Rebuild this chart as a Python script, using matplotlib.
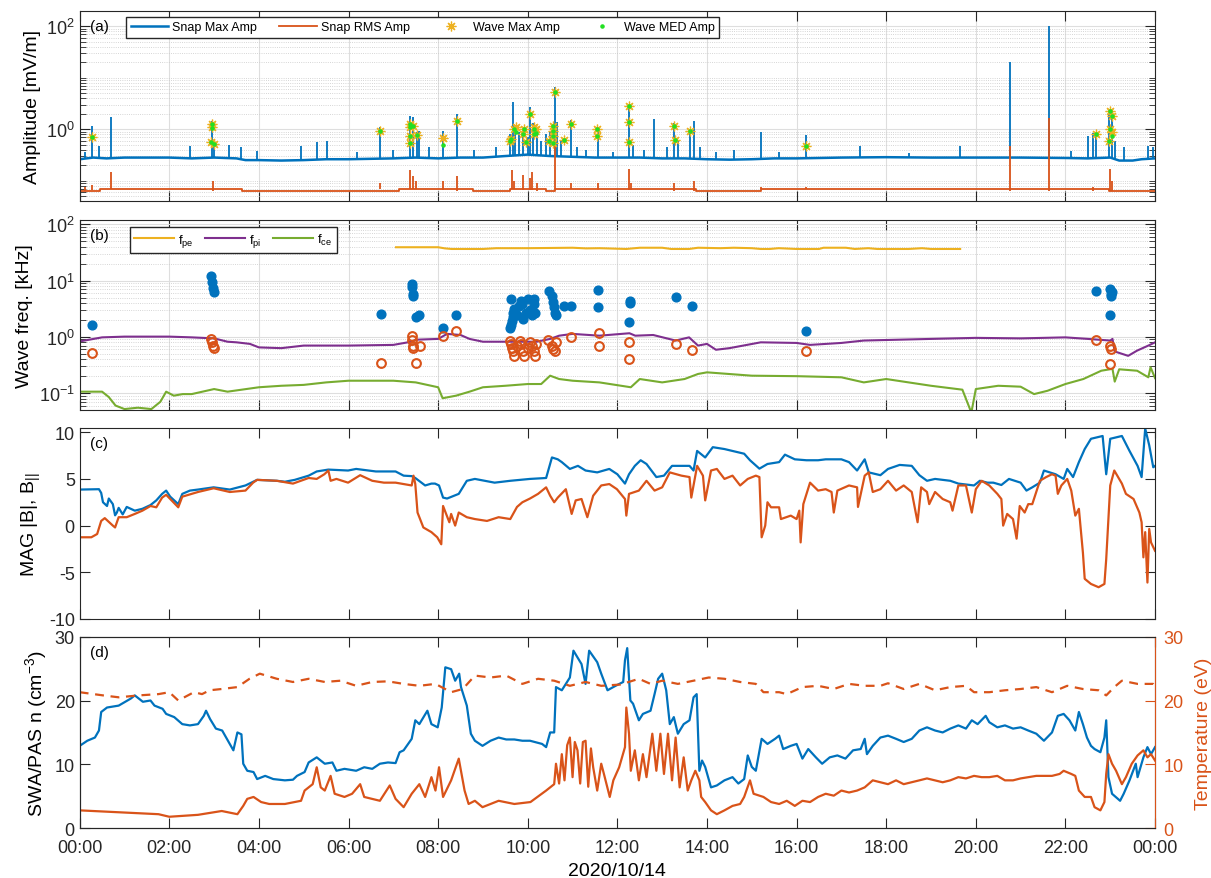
import numpy as np
import matplotlib
matplotlib.use("Agg")
import matplotlib.pyplot as plt
from matplotlib.ticker import LogLocator, FixedLocator, NullFormatter, LogFormatterSciNotation

plt.rcParams['font.family'] = ['Liberation Sans', 'DejaVu Sans']
plt.rcParams['font.size'] = 13
plt.rcParams['mathtext.fontset'] = 'custom'
plt.rcParams['mathtext.rm'] = 'Liberation Sans'
plt.rcParams['mathtext.it'] = 'Liberation Sans:italic'
plt.rcParams['mathtext.bf'] = 'Liberation Sans:bold'
plt.rcParams['axes.unicode_minus'] = False
plt.rcParams['axes.edgecolor'] = '#262626'
plt.rcParams['xtick.color'] = '#262626'
plt.rcParams['ytick.color'] = '#262626'
plt.rcParams['xtick.direction'] = 'in'
plt.rcParams['ytick.direction'] = 'in'

BLUE = '#0072BD'
ORANGE = '#D95319'
YELLOW = '#EDB120'
PURPLE = '#7E2F8E'
GREEN = '#77AC30'

# ---------------- data (time in hours of 2020/10/14) ----------------
# (a) snapshot amplitudes
snap_max_base = [(0, 0.26), (0.3, 0.28), (0.6, 0.27), (1.0, 0.28), (1.5, 0.28), (2.0, 0.28), (2.5, 0.27),
                 (3.0, 0.28), (3.5, 0.27), (3.7, 0.25), (4.0, 0.25), (4.5, 0.245), (5.0, 0.25), (5.5, 0.26),
                 (6.0, 0.26), (6.5, 0.265), (7.0, 0.27), (7.5, 0.28), (8.0, 0.27), (8.5, 0.28), (9.0, 0.28),
                 (9.5, 0.30), (10.0, 0.32), (10.5, 0.30), (11.0, 0.29), (11.5, 0.28), (12.0, 0.28), (12.5, 0.28),
                 (13.0, 0.27), (13.5, 0.27), (14.0, 0.26), (14.5, 0.255), (15.0, 0.26), (15.5, 0.27), (16.0, 0.27),
                 (17.0, 0.28), (18.0, 0.285), (19.0, 0.28), (20.0, 0.28), (21.0, 0.28), (22.0, 0.275), (22.5, 0.27),
                 (23.0, 0.28), (23.2, 0.245), (23.5, 0.245), (23.7, 0.26), (24.0, 0.27)]
snap_max_spikes = [(0.12, 0.36), (0.27, 1.17), (0.42, 0.48), (0.71, 1.71), (2.47, 0.48), (2.95, 1.45), (3.0, 0.6),
                   (3.34, 0.5), (3.59, 0.45), (3.96, 0.37), (4.95, 0.48), (5.3, 0.56), (5.53, 0.6), (6.2, 0.36),
                   (6.71, 1.09), (7.0, 0.4), (7.38, 1.84), (7.45, 1.71), (7.53, 0.9), (7.58, 0.94), (7.8, 0.45),
                   (8.1, 0.94), (8.43, 1.98), (8.8, 0.4), (9.3, 0.45), (9.6, 0.8), (9.66, 3.35), (9.72, 1.2),
                   (9.8, 0.9), (9.9, 1.1), (10.0, 0.7), (10.06, 2.7), (10.12, 1.3), (10.2, 1.1), (10.3, 0.6),
                   (10.4, 0.8), (10.5, 0.9), (10.6, 6.6), (10.65, 1.4), (10.75, 0.6), (10.96, 1.52), (11.1, 0.45),
                   (11.3, 0.4), (11.56, 1.09), (11.9, 0.36), (12.27, 3.1), (12.35, 0.5), (12.6, 0.4), (12.82, 1.55),
                   (13.1, 0.45), (13.27, 1.33), (13.35, 0.6), (13.63, 1.0), (13.72, 1.47), (13.85, 0.45),
                   (14.2, 0.36), (14.6, 0.4), (15.2, 0.89), (15.6, 0.36), (16.2, 0.78), (17.42, 0.48), (18.5, 0.35),
                   (19.64, 0.48), (20.77, 20.0), (21.64, 100.0), (22.12, 0.38), (22.5, 0.75), (22.62, 0.84),
                   (22.69, 0.82), (22.98, 2.5), (23.03, 1.9), (23.1, 0.6), (23.3, 0.45), (23.85, 0.48), (23.95, 0.45)]
snap_rms_steps = [(0, 0.062), (0.45, 0.069), (3.62, 0.062), (7.13, 0.069), (8.77, 0.062), (9.6, 0.069),
                  (10.4, 0.062), (10.6, 0.069), (13.75, 0.062), (15.2, 0.069), (22.97, 0.062), (24.0, 0.062)]
snap_rms_spikes = [(0.12, 0.075), (0.27, 0.082), (0.71, 0.145), (2.97, 0.1), (6.71, 0.09), (7.38, 0.16),
                   (7.45, 0.12), (7.5, 0.1), (8.1, 0.1), (8.43, 0.12), (9.65, 0.16), (9.7, 0.1), (9.9, 0.13),
                   (10.05, 0.11), (10.1, 0.15), (10.2, 0.09), (10.6, 0.48), (10.96, 0.09), (11.56, 0.09),
                   (12.27, 0.17), (12.3, 0.09), (13.27, 0.09), (13.72, 0.1), (15.2, 0.075), (16.2, 0.075),
                   (20.77, 0.48), (21.64, 1.64), (22.62, 0.075), (23.0, 0.17), (23.05, 0.1)]
wave_max_amp = [(0.27, 0.7), (2.95, 1.27), (2.95, 1.09), (2.93, 0.57), (3.0, 0.52), (6.71, 0.94), (7.38, 1.27),
                (7.38, 1.09), (7.38, 0.75), (7.38, 0.53), (7.45, 1.17), (7.53, 0.78), (8.1, 0.67), (8.43, 1.47),
                (9.61, 0.6), (9.63, 0.63), (9.7, 1.0), (9.74, 1.09), (9.89, 0.8), (9.92, 1.0), (9.96, 0.57),
                (10.05, 1.98), (10.14, 1.09), (10.14, 0.8), (10.18, 1.0), (10.47, 0.6), (10.56, 1.17),
                (10.56, 0.94), (10.56, 0.75), (10.56, 0.55), (10.6, 5.25), (10.8, 0.62), (10.96, 1.27),
                (11.55, 1.0), (11.55, 0.75), (12.27, 2.77), (12.27, 1.4), (12.25, 0.57), (13.27, 1.17),
                (13.29, 0.62), (13.63, 0.94), (16.2, 0.47), (22.69, 0.82), (23.0, 2.25), (23.03, 1.83),
                (23.0, 1.02), (23.03, 0.87), (22.98, 0.6)]
wave_med_amp = [(0.27, 0.7), (2.95, 1.27), (2.95, 1.05), (2.93, 0.57), (3.0, 0.52), (6.71, 0.94), (7.38, 1.27),
                (7.38, 1.09), (7.38, 0.75), (7.38, 0.53), (7.45, 1.17), (7.53, 0.78), (8.1, 0.5), (8.43, 1.47),
                (9.61, 0.6), (9.63, 0.63), (9.7, 1.0), (9.74, 0.9), (9.89, 0.8), (9.92, 1.0), (9.96, 0.57),
                (10.05, 1.98), (10.14, 1.0), (10.14, 0.8), (10.18, 0.85), (10.47, 0.6), (10.56, 1.17),
                (10.56, 0.94), (10.56, 0.75), (10.56, 0.55), (10.6, 5.25), (10.8, 0.62), (10.96, 1.27),
                (11.55, 1.0), (11.55, 0.75), (12.27, 2.77), (12.27, 1.4), (12.25, 0.57), (13.27, 1.17),
                (13.29, 0.62), (13.63, 0.94), (16.2, 0.47), (22.69, 0.82), (23.0, 2.25), (23.03, 1.83),
                (23.0, 1.02), (23.03, 0.75), (22.98, 0.6)]

# (b) wave frequencies and plasma frequencies [kHz]
freq_high = [(0.27, 1.63), (2.94, 12.3), (2.95, 9.6), (2.97, 7.3), (3.0, 6.4), (6.73, 2.56), (7.42, 8.7),
             (7.42, 7.6), (7.43, 5.8), (7.44, 5.3), (7.5, 2.3), (7.58, 2.4), (8.1, 1.42), (8.4, 2.45),
             (9.60, 1.42), (9.62, 1.63), (9.64, 1.95), (9.66, 2.3), (9.68, 2.7), (9.70, 3.1), (9.63, 4.7),
             (9.75, 2.4), (9.80, 3.6), (9.85, 4.4), (9.88, 3.85), (9.90, 2.1), (9.95, 2.7), (10.0, 4.7),
             (10.05, 3.0), (10.1, 2.4), (10.13, 3.85), (10.15, 4.7), (10.17, 2.7), (10.47, 6.6), (10.55, 5.3),
             (10.57, 4.1), (10.58, 3.4), (10.6, 2.7), (10.62, 2.4), (10.8, 3.6), (10.96, 3.6), (11.57, 6.9),
             (11.57, 3.4), (12.27, 1.82), (12.28, 4.4), (12.29, 4.0), (13.3, 5.1), (13.66, 3.6), (16.2, 1.26),
             (22.69, 6.6), (23.0, 7.1), (23.01, 5.8), (23.02, 5.3), (23.0, 2.45), (23.05, 6.3)]
freq_low = [(0.27, 0.51), (2.94, 0.92), (2.96, 0.82), (2.98, 0.70), (3.0, 0.63), (6.73, 0.35), (7.42, 1.05),
            (7.42, 0.89), (7.43, 0.70), (7.44, 0.63), (7.5, 0.35), (7.6, 0.70), (8.1, 1.04), (8.4, 1.29),
            (9.6, 0.86), (9.62, 0.75), (9.64, 0.63), (9.66, 0.55), (9.7, 0.46), (9.75, 0.68), (9.82, 0.86),
            (9.85, 0.75), (9.9, 0.55), (9.92, 0.46), (10.0, 0.63), (10.05, 0.82), (10.1, 0.68), (10.15, 0.55),
            (10.17, 0.46), (10.18, 0.75), (10.45, 0.89), (10.55, 0.70), (10.57, 0.60), (10.6, 0.55),
            (10.62, 0.82), (10.96, 0.98), (11.58, 1.17), (11.58, 0.70), (12.27, 0.82), (12.25, 0.40),
            (13.3, 0.75), (13.66, 0.58), (16.2, 0.55), (22.69, 0.88), (23.0, 0.70), (23.02, 0.61), (23.0, 0.33)]
f_pe = [(7.06, 39.3), (8.0, 39.3), (8.15, 37.5), (8.3, 36.6), (9.0, 36.6), (9.3, 37.8), (10.0, 37.8),
        (11.0, 38.5), (11.3, 37.5), (11.6, 37.8), (12.2, 36.6), (12.5, 38.5), (13.0, 38.5), (13.2, 36.6),
        (13.6, 36.6), (13.8, 38.5), (14.3, 37.8), (14.6, 38.5), (15.0, 37.8), (15.2, 36.6), (15.4, 36.6),
        (15.6, 37.8), (16.0, 36.6), (16.5, 36.6), (16.6, 38.5), (17.1, 38.5), (17.3, 36.6), (17.6, 37.8),
        (17.8, 36.6), (18.5, 36.6), (18.8, 37.8), (19.0, 36.6), (19.65, 36.6)]
f_pi = [(0, 0.83), (0.5, 0.98), (1.0, 1.01), (2.0, 1.01), (2.5, 0.98), (3.0, 0.94), (3.3, 0.82), (3.5, 0.80),
        (3.8, 0.75), (4.0, 0.65), (4.5, 0.63), (5.0, 0.70), (6.0, 0.70), (7.0, 0.72), (7.4, 0.82), (7.5, 0.89),
        (8.0, 0.92), (8.2, 1.13), (8.5, 1.08), (8.7, 0.92), (9.0, 0.82), (10.2, 0.82), (10.5, 0.92), (10.7, 1.05),
        (11.0, 1.13), (11.6, 1.05), (12.27, 1.16), (12.4, 1.05), (12.8, 1.08), (13.3, 0.86), (13.6, 0.98),
        (13.8, 0.70), (14.0, 0.75), (14.2, 0.59), (14.5, 0.63), (15.2, 0.80), (16.0, 0.78), (16.3, 0.72),
        (17.0, 0.78), (17.5, 0.86), (18.0, 0.88), (19.0, 0.92), (20.0, 0.96), (21.0, 0.94), (22.0, 0.98),
        (22.5, 0.92), (23.0, 0.86), (23.05, 0.92), (23.1, 0.55), (23.4, 0.46), (23.6, 0.57), (23.85, 0.70),
        (24.0, 0.80)]
f_ce = [(0, 0.106), (0.5, 0.106), (0.65, 0.085), (0.8, 0.060), (1.0, 0.052), (1.3, 0.055), (1.6, 0.052),
        (1.8, 0.07), (1.93, 0.106), (2.1, 0.09), (2.3, 0.096), (2.5, 0.096), (3.0, 0.118), (3.3, 0.106),
        (4.0, 0.127), (4.5, 0.135), (5.0, 0.14), (5.5, 0.155), (6.0, 0.166), (7.0, 0.166), (7.5, 0.155),
        (8.0, 0.127), (8.1, 0.081), (8.4, 0.09), (8.7, 0.106), (9.0, 0.127), (9.5, 0.135), (10.0, 0.145),
        (10.3, 0.145), (10.5, 0.204), (10.7, 0.178), (11.0, 0.166), (11.6, 0.155), (12.3, 0.127),
        (12.5, 0.178), (13.0, 0.155), (13.5, 0.178), (13.8, 0.219), (14.0, 0.234), (15.0, 0.204),
        (16.0, 0.2), (17.0, 0.191), (17.5, 0.155), (18.0, 0.178), (18.5, 0.155), (19.0, 0.135),
        (19.7, 0.115), (19.9, 0.045), (20.0, 0.118), (20.5, 0.135), (21.0, 0.13), (21.3, 0.096),
        (21.6, 0.11), (22.0, 0.145), (22.4, 0.178), (22.8, 0.25), (23.05, 0.27), (23.1, 0.16), (23.2, 0.265),
        (23.6, 0.25), (23.85, 0.191), (23.9, 0.288), (24.0, 0.185)]

# (c) magnetic field [nT]
b_abs = [(0.00, 3.86), (0.43, 3.9), (0.48, 3.5), (0.52, 2.5), (0.61, 2.1), (0.65, 2.9), (0.74, 2.3), (0.79, 1.1),
         (0.83, 1.4), (0.87, 1.9), (0.96, 1.2), (1.05, 2.0), (1.23, 1.6), (1.40, 1.8), (1.58, 2.2), (1.71, 2.7),
         (1.84, 3.4), (1.93, 3.75), (2.02, 3.1), (2.20, 2.3), (2.29, 3.4), (2.46, 3.75), (2.64, 3.86),
         (2.99, 4.1), (3.35, 3.86), (3.70, 4.3), (3.96, 4.9), (4.40, 4.8), (4.58, 4.7), (4.80, 4.9),
         (5.11, 5.35), (5.29, 5.8), (5.55, 6.0), (5.99, 5.9), (6.17, 6.07), (6.61, 5.8), (7.05, 5.8),
         (7.23, 5.35), (7.41, 5.3), (7.49, 5.1), (7.71, 4.3), (7.85, 4.5), (7.93, 4.5), (8.02, 4.3),
         (8.11, 3.0), (8.20, 2.9), (8.46, 3.4), (8.64, 4.8), (8.82, 5.0), (9.26, 4.6), (9.61, 4.8),
         (10.05, 5.0), (10.41, 5.1), (10.54, 7.3), (10.67, 7.1), (10.76, 6.8), (10.94, 6.07), (11.12, 6.4),
         (11.29, 5.9), (11.55, 5.7), (11.82, 6.07), (12.0, 5.5), (12.17, 4.5), (12.26, 5.5), (12.39, 6.4),
         (12.52, 7.0), (12.65, 6.6), (12.87, 5.2), (13.04, 5.35), (13.22, 6.4), (13.61, 6.4), (13.70, 5.9),
         (13.78, 8.0), (13.96, 7.3), (14.13, 8.4), (14.39, 8.2), (14.65, 7.9), (14.83, 7.7), (14.96, 7.0),
         (15.17, 6.1), (15.35, 6.6), (15.61, 6.8), (15.74, 7.6), (15.96, 7.1), (16.22, 7.0), (16.48, 7.0),
         (16.65, 7.1), (17.0, 7.1), (17.17, 6.8), (17.35, 5.9), (17.52, 7.1), (17.61, 5.7), (17.87, 5.4),
         (18.04, 6.07), (18.30, 6.5), (18.57, 6.4), (18.74, 5.4), (18.91, 4.8), (19.09, 5.0), (19.43, 4.8),
         (19.61, 4.5), (19.96, 4.3), (20.09, 4.8), (20.26, 4.6), (20.39, 4.6), (20.57, 4.35), (20.74, 5.0),
         (21.0, 4.6), (21.13, 3.75), (21.26, 4.1), (21.43, 4.6), (21.52, 5.9), (21.78, 5.5), (21.96, 5.0),
         (22.04, 6.07), (22.17, 5.2), (22.30, 6.8), (22.43, 8.2), (22.57, 9.3), (22.83, 9.6), (22.91, 5.5),
         (23.0, 9.3), (23.26, 9.6), (23.43, 8.0), (23.61, 6.4), (23.70, 5.2), (23.78, 10.4), (23.87, 8.6),
         (23.96, 6.25), (24.0, 6.4)]
b_par = [(0.00, -1.25), (0.26, -1.25), (0.39, -0.9), (0.48, 0.5), (0.56, 0.8), (0.74, 0.0), (0.79, -0.2),
         (0.87, 0.9), (1.05, 0.9), (1.23, 1.25), (1.40, 1.6), (1.58, 2.1), (1.71, 1.96), (1.84, 3.0),
         (1.93, 3.3), (2.02, 2.85), (2.20, 1.96), (2.29, 3.1), (2.64, 3.6), (2.99, 4.0), (3.35, 3.6),
         (3.70, 3.75), (3.87, 4.6), (3.96, 4.9), (4.40, 4.8), (4.76, 4.5), (5.11, 5.1), (5.29, 5.0),
         (5.46, 5.5), (5.55, 5.9), (5.60, 4.8), (5.73, 5.0), (5.99, 4.6), (6.26, 5.4), (6.53, 4.8),
         (6.79, 4.6), (7.05, 4.6), (7.41, 4.3), (7.45, 5.35), (7.49, 4.45), (7.54, 1.4), (7.67, -0.2),
         (7.85, -0.7), (7.98, -1.25), (8.07, -2.0), (8.11, 2.1), (8.25, 0.36), (8.29, 1.25), (8.38, 0.0),
         (8.46, 1.4), (8.64, 0.9), (8.82, 0.7), (9.09, 0.5), (9.35, 0.9), (9.61, 0.7), (9.76, 2.0),
         (9.88, 2.5), (10.05, 2.9), (10.23, 3.4), (10.41, 4.1), (10.50, 3.2), (10.59, 2.5), (10.67, 3.0),
         (10.85, 3.9), (10.98, 1.25), (11.07, 2.7), (11.20, 2.85), (11.33, 0.9), (11.46, 3.2), (11.64, 4.3),
         (11.82, 4.45), (11.99, 3.9), (12.17, 2.85), (12.20, 1.07), (12.26, 3.4), (12.48, 3.75), (12.65, 4.8),
         (12.83, 3.75), (13.0, 4.1), (13.17, 5.7), (13.43, 5.35), (13.61, 5.2), (13.65, 3.0), (13.78, 6.4),
         (13.91, 5.35), (13.96, 2.7), (14.09, 5.9), (14.22, 6.07), (14.39, 5.0), (14.57, 5.35), (14.74, 4.3),
         (14.91, 5.0), (15.09, 5.35), (15.17, 5.2), (15.22, -1.25), (15.30, 0.0), (15.35, 2.5), (15.43, 1.96),
         (15.61, 1.96), (15.65, 0.7), (15.87, 1.07), (16.0, 0.7), (16.06, 1.6), (16.09, -1.8), (16.15, 2.3),
         (16.30, 4.6), (16.48, 3.75), (16.65, 3.9), (16.78, 3.6), (16.83, 1.4), (16.91, 3.75), (17.17, 4.3),
         (17.35, 4.1), (17.37, 2.0), (17.52, 5.35), (17.61, 5.7), (17.70, 3.6), (17.87, 3.9), (18.04, 4.8),
         (18.22, 3.75), (18.39, 4.3), (18.57, 3.6), (18.70, 0.36), (18.78, 4.1), (18.91, 3.6), (18.96, 2.3),
         (19.09, 3.6), (19.26, 2.85), (19.43, 2.5), (19.48, 1.6), (19.61, 4.3), (19.78, 4.3), (19.91, 1.4),
         (20.0, 3.9), (20.13, 4.8), (20.30, 4.3), (20.48, 3.4), (20.57, 2.85), (20.61, 0.0), (20.70, 1.25),
         (20.83, 0.7), (20.91, -1.4), (20.98, 2.1), (21.09, 1.4), (21.17, 2.3), (21.26, 2.3), (21.43, 4.8),
         (21.57, 5.2), (21.70, 5.5), (21.78, 5.35), (21.83, 3.4), (21.91, 4.3), (22.04, 5.0), (22.13, 3.75),
         (22.22, 1.07), (22.30, 1.8), (22.39, -2.9), (22.43, -5.7), (22.57, -6.25), (22.74, -6.6),
         (22.87, -6.25), (22.91, -3.6), (23.0, 4.3), (23.09, 5.9), (23.26, 4.5), (23.35, 3.4), (23.52, 2.85),
         (23.65, 1.4), (23.70, 0.36), (23.74, -3.4), (23.78, -0.7), (23.83, -6.1), (23.87, -0.36),
         (23.91, -1.8), (24.0, -2.7)]

# (d) plasma density [cm^-3] and temperatures [eV]
density = [(0.00, 12.9), (0.17, 13.7), (0.34, 14.2), (0.43, 15.3), (0.48, 18.2), (0.61, 18.9), (0.87, 19.2),
           (1.14, 20.3), (1.23, 20.8), (1.41, 19.8), (1.58, 20.0), (1.67, 19.2), (1.85, 18.7), (1.93, 17.9),
           (2.11, 17.4), (2.29, 16.3), (2.46, 16.1), (2.64, 16.3), (2.77, 17.6), (2.82, 18.4), (2.91, 17.1),
           (3.04, 15.6), (3.18, 15.3), (3.35, 13.2), (3.43, 12.2), (3.52, 15.0), (3.61, 14.7), (3.65, 10.1),
           (3.74, 9.0), (3.88, 8.8), (3.96, 7.7), (4.14, 8.2), (4.32, 7.7), (4.58, 7.5), (4.76, 7.6),
           (4.85, 8.2), (5.02, 8.8), (5.11, 10.3), (5.29, 11.1), (5.47, 10.1), (5.64, 10.3), (5.73, 9.0),
           (5.91, 9.3), (6.17, 9.0), (6.35, 9.55), (6.53, 9.3), (6.70, 10.1), (6.88, 10.3), (7.05, 10.2),
           (7.14, 11.9), (7.23, 12.2), (7.41, 14.0), (7.49, 16.9), (7.58, 16.3), (7.76, 18.4), (7.85, 16.3),
           (7.99, 15.8), (8.08, 18.9), (8.16, 25.2), (8.29, 24.9), (8.38, 23.1), (8.47, 24.2), (8.51, 22.1),
           (8.64, 19.2), (8.73, 14.8), (8.82, 13.7), (8.99, 12.9), (9.17, 13.7), (9.35, 14.2), (9.52, 13.9),
           (9.70, 13.9), (9.88, 13.7), (10.05, 13.7), (10.32, 13.2), (10.41, 12.7), (10.50, 15.0),
           (10.59, 15.0), (10.63, 22.1), (10.76, 21.6), (10.94, 23.6), (11.02, 27.8), (11.20, 25.7),
           (11.29, 22.6), (11.37, 27.8), (11.55, 26.0), (11.64, 24.2), (11.78, 21.6), (11.96, 22.3),
           (12.13, 22.9), (12.17, 26.3), (12.22, 28.2), (12.29, 20.0), (12.35, 19.5), (12.48, 16.9),
           (12.57, 17.9), (12.74, 18.4), (12.83, 21.0), (12.91, 23.4), (13.0, 24.2), (13.09, 21.6),
           (13.17, 16.3), (13.26, 17.4), (13.35, 14.8), (13.48, 16.3), (13.61, 16.9), (13.70, 20.5),
           (13.77, 21.0), (13.83, 9.0), (13.89, 10.6), (13.96, 9.6), (14.09, 6.4), (14.22, 6.7), (14.39, 7.5),
           (14.57, 8.0), (14.70, 7.0), (14.83, 7.7), (14.91, 11.4), (15.0, 9.6), (15.09, 9.0), (15.22, 14.0),
           (15.35, 13.2), (15.52, 14.0), (15.61, 14.5), (15.70, 12.4), (15.87, 12.9), (16.0, 13.2),
           (16.13, 10.9), (16.26, 12.4), (16.43, 11.1), (16.57, 10.1), (16.74, 11.1), (16.91, 11.4),
           (17.09, 10.9), (17.26, 12.2), (17.43, 12.4), (17.52, 14.0), (17.57, 11.6), (17.70, 12.9),
           (17.87, 14.2), (18.04, 14.5), (18.22, 14.0), (18.39, 13.5), (18.57, 14.0), (18.74, 15.3),
           (18.91, 15.8), (19.09, 15.3), (19.26, 15.0), (19.43, 15.6), (19.61, 16.1), (19.78, 15.6),
           (19.91, 16.9), (20.04, 16.3), (20.22, 17.6), (20.30, 16.6), (20.48, 15.8), (20.65, 16.1),
           (20.83, 15.6), (21.0, 15.8), (21.17, 15.3), (21.35, 14.8), (21.52, 13.7), (21.70, 15.0),
           (21.83, 17.6), (21.96, 17.9), (22.09, 16.9), (22.22, 15.3), (22.30, 18.2), (22.39, 16.3),
           (22.48, 14.2), (22.57, 12.9), (22.65, 12.4), (22.78, 11.9), (22.87, 14.2), (22.91, 16.9),
           (22.96, 8.0), (23.04, 5.4), (23.22, 4.3), (23.30, 5.4), (23.43, 7.5), (23.57, 10.1), (23.61, 8.0),
           (23.74, 11.1), (23.83, 12.7), (23.91, 11.6), (24.0, 12.7)]
temp_solid = [(0.00, 2.8), (0.87, 2.5), (1.76, 2.2), (2.00, 1.8), (2.64, 2.1), (3.17, 2.7), (3.52, 2.2),
              (3.65, 3.5), (3.74, 4.6), (3.88, 4.9), (4.05, 4.1), (4.23, 3.8), (4.58, 3.8), (4.94, 4.3),
              (5.02, 5.9), (5.20, 6.9), (5.29, 9.55), (5.38, 6.4), (5.47, 5.9), (5.60, 8.2), (5.69, 5.4),
              (5.91, 4.9), (6.08, 5.4), (6.26, 6.9), (6.35, 4.9), (6.70, 4.3), (6.92, 6.7), (7.05, 4.6),
              (7.23, 3.3), (7.41, 5.4), (7.58, 6.9), (7.71, 4.9), (7.85, 8.0), (7.94, 5.9), (8.02, 9.55),
              (8.11, 4.9), (8.29, 7.5), (8.46, 10.9), (8.59, 5.9), (8.68, 3.8), (8.82, 4.3), (8.99, 3.3),
              (9.35, 4.3), (9.70, 3.8), (10.06, 4.1), (10.41, 5.9), (10.59, 6.9), (10.63, 10.1), (10.70, 7.0),
              (10.76, 11.6), (10.82, 7.5), (10.88, 13.0), (10.94, 14.2), (11.0, 8.0), (11.05, 13.5),
              (11.11, 12.2), (11.17, 7.0), (11.23, 13.5), (11.29, 13.7), (11.35, 6.5), (11.41, 12.5),
              (11.46, 9.55), (11.55, 5.9), (11.64, 10.1), (11.70, 8.5), (11.83, 4.9), (11.91, 7.5),
              (12.04, 9.55), (12.17, 12.7), (12.20, 18.9), (12.26, 14.8), (12.30, 9.0), (12.39, 12.2),
              (12.48, 7.5), (12.57, 11.6), (12.65, 8.0), (12.78, 14.8), (12.87, 9.0), (12.96, 14.8),
              (13.04, 8.5), (13.13, 14.8), (13.22, 7.5), (13.30, 14.2), (13.39, 6.4), (13.48, 11.1),
              (13.57, 5.9), (13.65, 7.5), (13.74, 9.0), (13.83, 7.5), (13.87, 4.9), (13.96, 4.1),
              (14.09, 2.8), (14.22, 2.2), (14.39, 2.8), (14.57, 3.5), (14.74, 3.8), (14.83, 4.9), (14.96, 7.5),
              (15.04, 5.4), (15.26, 4.9), (15.43, 4.1), (15.61, 3.8), (15.78, 4.3), (15.96, 3.5), (16.13, 4.3),
              (16.30, 4.1), (16.48, 4.9), (16.65, 5.4), (16.83, 5.1), (17.0, 5.9), (17.17, 5.6), (17.35, 5.9),
              (17.52, 6.4), (17.70, 7.5), (17.87, 7.2), (18.04, 6.9), (18.22, 7.5), (18.39, 6.9), (18.57, 7.2),
              (18.74, 7.5), (18.91, 7.8), (19.09, 7.5), (19.26, 7.2), (19.43, 7.5), (19.61, 8.0), (19.78, 7.8),
              (19.96, 8.2), (20.13, 8.0), (20.30, 8.0), (20.48, 8.2), (20.65, 7.5), (20.83, 7.5), (21.0, 7.8),
              (21.17, 8.0), (21.35, 8.2), (21.52, 8.2), (21.70, 8.2), (21.87, 8.5), (21.96, 9.0), (22.13, 8.5),
              (22.22, 8.2), (22.30, 5.9), (22.43, 4.9), (22.57, 4.9), (22.65, 3.3), (22.78, 2.8), (22.87, 4.1),
              (22.91, 8.5), (22.96, 11.6), (23.04, 10.1), (23.13, 9.0), (23.26, 6.9), (23.35, 8.0),
              (23.48, 10.1), (23.61, 11.4), (23.74, 12.2), (23.83, 11.1), (23.91, 11.6), (24.0, 10.6)]
temp_dashed = [(0.00, 21.3), (0.52, 20.8), (0.87, 20.5), (1.32, 20.8), (1.76, 21.0), (2.00, 21.3), (2.20, 20.0),
               (2.55, 21.3), (2.73, 21.0), (2.90, 21.6), (3.17, 21.8), (3.52, 22.1), (3.79, 23.4), (4.02, 24.2),
               (4.40, 23.4), (4.76, 22.9), (5.11, 23.4), (5.47, 22.9), (5.82, 23.1), (6.17, 22.3), (6.53, 22.9),
               (6.88, 23.0), (7.23, 22.6), (7.58, 22.3), (7.94, 22.6), (8.29, 21.3), (8.55, 21.8), (8.82, 23.9),
               (9.17, 23.6), (9.52, 23.9), (9.88, 22.6), (10.23, 23.4), (10.59, 23.1), (10.94, 22.3),
               (11.29, 22.9), (11.64, 22.3), (12.07, 22.5), (12.48, 23.4), (12.74, 22.6), (13.0, 23.1),
               (13.35, 22.6), (13.70, 23.1), (14.04, 23.6), (14.39, 23.4), (14.74, 22.9), (15.09, 22.6),
               (15.26, 21.3), (15.61, 21.3), (15.78, 21.0), (16.13, 22.1), (16.48, 22.3), (16.83, 21.8),
               (17.17, 22.6), (17.52, 22.3), (17.87, 22.3), (18.04, 22.7), (18.39, 21.8), (18.74, 22.6),
               (19.09, 21.6), (19.43, 22.1), (19.78, 22.3), (19.96, 21.3), (20.30, 21.3), (20.65, 21.6),
               (21.0, 21.8), (21.35, 22.1), (21.70, 21.3), (22.04, 22.3), (22.39, 21.8), (22.74, 21.6),
               (22.91, 20.8), (23.09, 22.1), (23.26, 23.1), (23.61, 22.6), (23.96, 22.6), (24.0, 22.3)]

hour_ticks = list(range(0, 25, 2))
hour_labels = ['%02d:00' % (h % 24) for h in hour_ticks]


def xy(pairs):
    a = np.array(pairs, dtype=float)
    return a[:, 0], a[:, 1]


def style_axes(ax, show_xlabels=False):
    ax.set_xlim(0, 24)
    ax.set_xticks(hour_ticks)
    if show_xlabels:
        ax.set_xticklabels(hour_labels)
    else:
        ax.set_xticklabels([])
    ax.tick_params(which='major', length=7, width=0.8, top=True, right=True, labelsize=13)
    ax.tick_params(which='minor', length=4, width=0.6, top=True, right=True)
    ax.tick_params(axis='x', pad=8)
    for s in ax.spines.values():
        s.set_linewidth(0.8)


def log_grid(ax):
    ax.grid(True, which='major', color='#dedede', linewidth=0.8, linestyle='-')
    ax.grid(True, which='minor', axis='y', color='#c8c8c8', linewidth=0.6, linestyle=':')
    ax.set_axisbelow(True)


fig = plt.figure(figsize=(12.11, 8.79), dpi=100)
L, W = 0.0658, 0.888
axA = fig.add_axes([L, 0.7702, W, 0.2162])
axB = fig.add_axes([L, 0.5324, W, 0.2162])
axC = fig.add_axes([L, 0.2947, W, 0.2173])
axD = fig.add_axes([L, 0.0566, W, 0.2180])

# ---------------- (a) ----------------
ax = axA
t, v = xy(snap_max_base)
h1, = ax.plot(t, v, color=BLUE, lw=1.8, label='Snap Max Amp')
st, sv = xy(snap_max_spikes)
ax.vlines(st, np.interp(st, t, v), sv, color=BLUE, lw=1.3)
t, v = xy(snap_rms_steps)
h2, = ax.step(t, v, where='post', color=ORANGE, lw=1.3, label='Snap RMS Amp')
st, sv = xy(snap_rms_spikes)
ax.vlines(st, np.interp(st, t, v), sv, color=ORANGE, lw=1.3)
t, v = xy(wave_max_amp)
h3, = ax.plot(t, v, ls='none', marker=(8, 2, 0), ms=7, mew=0.9, color=YELLOW, label='Wave Max Amp')
t, v = xy(wave_med_amp)
h4, = ax.plot(t, v, ls='none', marker='.', ms=4.5, color='#22e022', label='Wave MED Amp')
ax.set_yscale('log')
ax.set_ylim(0.04, 200)
ax.yaxis.set_major_locator(FixedLocator([1e-2, 1, 1e2]))
ax.yaxis.set_major_formatter(LogFormatterSciNotation())
ax.yaxis.set_minor_locator(LogLocator(base=10, subs=np.arange(1, 10), numticks=20))
ax.yaxis.set_minor_formatter(NullFormatter())
style_axes(ax)
log_grid(ax)
ax.set_ylabel('Amplitude [mV/m]', fontsize=14)
ax.text(0.01, 0.92, '(a)', transform=ax.transAxes, fontsize=11, va='center')
ax.legend(handles=[h1, h2, h3, h4], loc='upper left', bbox_to_anchor=(0.0435, 0.968), ncol=4,
          fontsize=9, frameon=True, fancybox=False, edgecolor='#262626', framealpha=1,
          handlelength=3.0, handletextpad=0.3, columnspacing=1.8, borderpad=0.35, borderaxespad=0)

# ---------------- (b) ----------------
ax = axB
t, v = xy(f_pe)
p1, = ax.plot(t, v, color=YELLOW, lw=1.5, label=r'f$_{\rm pe}$')
t, v = xy(f_pi)
p2, = ax.plot(t, v, color=PURPLE, lw=1.5, label=r'f$_{\rm pi}$')
t, v = xy(f_ce)
p3, = ax.plot(t, v, color=GREEN, lw=1.5, label=r'f$_{\rm ce}$')
t, v = xy(freq_high)
ax.plot(t, v, ls='none', marker='o', ms=6.3, color=BLUE, mec=BLUE)
t, v = xy(freq_low)
ax.plot(t, v, ls='none', marker='o', ms=6.3, mfc='none', mec=ORANGE, mew=1.5)
ax.set_yscale('log')
ax.set_ylim(0.05, 120)
ax.yaxis.set_major_locator(LogLocator(base=10, numticks=10))
ax.yaxis.set_major_formatter(LogFormatterSciNotation())
ax.yaxis.set_minor_locator(LogLocator(base=10, subs=np.arange(2, 10), numticks=20))
ax.yaxis.set_minor_formatter(NullFormatter())
style_axes(ax)
log_grid(ax)
ax.set_ylabel('Wave freq. [kHz]', fontsize=14)
ax.text(0.01, 0.92, '(b)', transform=ax.transAxes, fontsize=11, va='center')
ax.legend(handles=[p1, p2, p3], loc='upper left', bbox_to_anchor=(0.0465, 0.963), ncol=3,
          fontsize=9.5, frameon=True, fancybox=False, edgecolor='#262626', framealpha=1,
          handlelength=3.0, handletextpad=0.3, columnspacing=0.9, borderpad=0.35, borderaxespad=0)

# ---------------- (c) ----------------
ax = axC
t, v = xy(b_abs)
ax.plot(t, v, color=BLUE, lw=1.6)
t, v = xy(b_par)
ax.plot(t, v, color=ORANGE, lw=1.6)
ax.set_ylim(-10, 10.46)
ax.set_yticks([-10, -5, 0, 5, 10])
style_axes(ax)
ax.set_ylabel(r'MAG |B|, B$_{||}$', fontsize=14)
ax.text(0.01, 0.923, '(c)', transform=ax.transAxes, fontsize=11, va='center')

# ---------------- (d) ----------------
ax = axD
t, v = xy(density)
ax.plot(t, v, color=BLUE, lw=1.6)
ax.set_ylim(0, 30)
ax.set_yticks([0, 10, 20, 30])
style_axes(ax, show_xlabels=True)
ax.tick_params(right=False)
ax.set_ylabel(r'SWA/PAS n (cm$^{-3}$)', fontsize=14)
ax.set_xlabel('2020/10/14', fontsize=14, labelpad=4)
ax.text(0.01, 0.92, '(d)', transform=ax.transAxes, fontsize=11, va='center')
axT = ax.twinx()
t, v = xy(temp_solid)
axT.plot(t, v, color=ORANGE, lw=1.6)
t, v = xy(temp_dashed)
axT.plot(t, v, color=ORANGE, lw=1.6, ls=(0, (4, 3)))
axT.set_ylim(0, 30)
axT.set_yticks([0, 10, 20, 30])
axT.tick_params(axis='y', colors=ORANGE, length=7, width=0.8, labelsize=13, direction='in', pad=6)
axT.spines['right'].set_color(ORANGE)
axT.set_ylabel('Temperature (eV)', color=ORANGE, fontsize=14, labelpad=8)

fig.savefig('out.png', dpi=100)
